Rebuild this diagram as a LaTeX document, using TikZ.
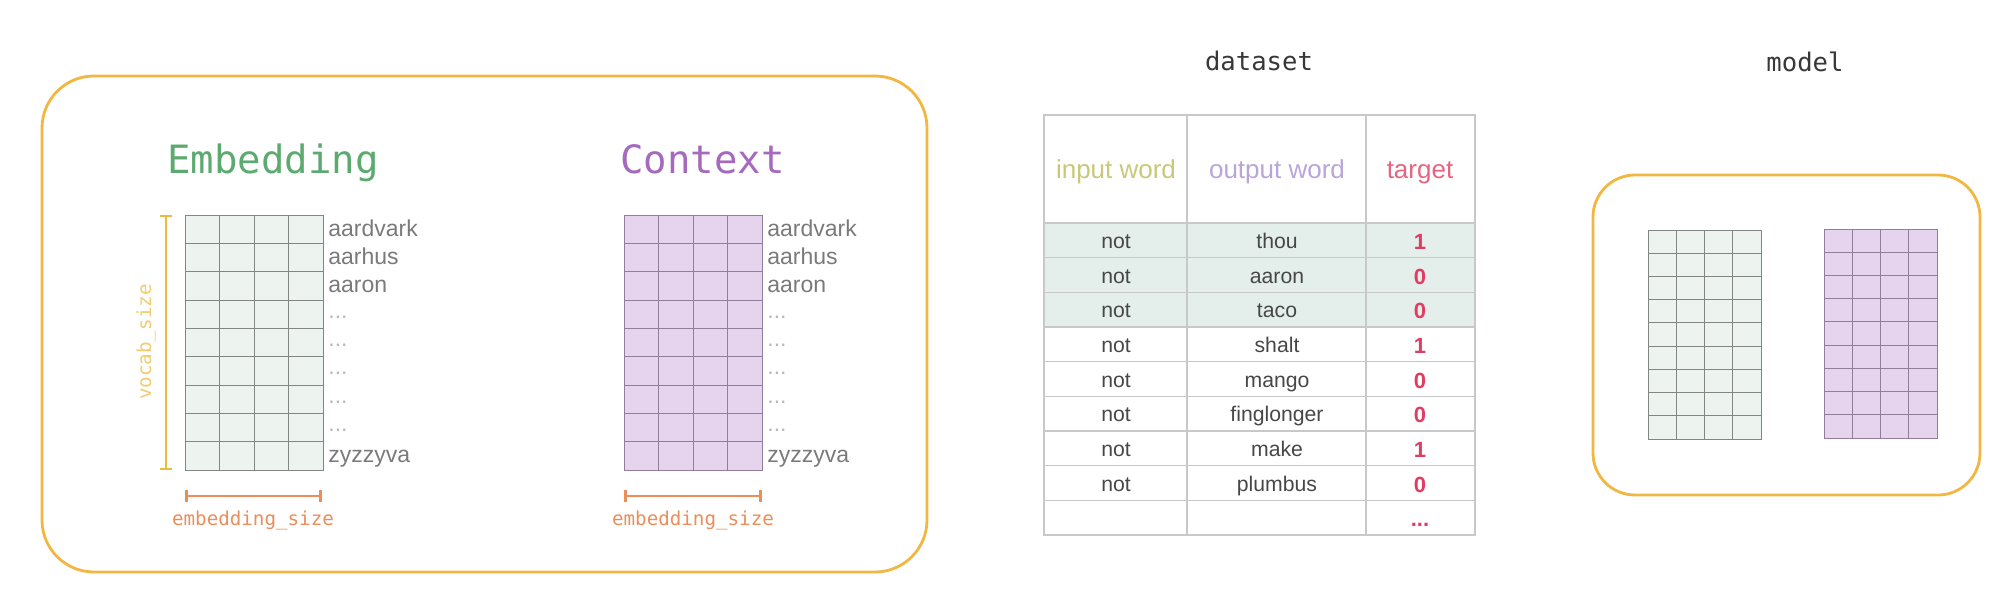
\documentclass[tikz,border=0pt]{standalone}
\usepackage{fontspec}
\setsansfont{Liberation Sans}
\setmonofont{DejaVu Sans Mono}
\usetikzlibrary{positioning,arrows.meta,calc}
\usepackage{xcolor}

\definecolor{frameorange}{RGB}{242,182,66}
\definecolor{embgreen}{RGB}{92,170,112}
\definecolor{ctxpurple}{RGB}{165,105,190}
\definecolor{vocabline}{RGB}{236,186,60}
\definecolor{vocabtext}{RGB}{240,204,110}
\definecolor{sizeorange}{RGB}{234,142,92}
\definecolor{embfill}{RGB}{237,243,239}
\definecolor{embline}{RGB}{130,135,132}
\definecolor{ctxfill}{RGB}{230,212,238}
\definecolor{ctxline}{RGB}{145,127,153}
\definecolor{tabline}{RGB}{200,200,200}
\definecolor{rowshade}{RGB}{228,239,236}
\definecolor{inputcol}{RGB}{200,200,120}
\definecolor{outputcol}{RGB}{185,165,215}
\definecolor{targetcol}{RGB}{230,100,130}
\definecolor{digitcol}{RGB}{225,60,100}

\newcommand{\gridlines}[1]{%
  \foreach \i in {1,2,3}
    \draw[#1, line width=0.5pt]
      ($(path picture bounding box.north west)!\i/4!(path picture bounding box.north east)$) --
      ($(path picture bounding box.south west)!\i/4!(path picture bounding box.south east)$);
  \foreach \j in {1,...,8}
    \draw[#1, line width=0.5pt]
      ($(path picture bounding box.north west)!\j/9!(path picture bounding box.south west)$) --
      ($(path picture bounding box.north east)!\j/9!(path picture bounding box.south east)$);
}

\begin{document}
\begin{tikzpicture}[
  x=0.5pt, y=-0.5pt,
  frame/.style={draw=frameorange, line width=1.4pt, rounded corners=#1},
  gridbox/.style n args={2}{draw=#2, fill=#1, line width=0.5pt, inner sep=0pt,
                            path picture={\gridlines{#2}}},
  bigmat/.style={minimum width=69pt, minimum height=127.5pt},
  smallmat/.style={minimum width=56.5pt, minimum height=104.5pt},
  title/.style={font=\ttfamily\fontsize{19.5}{20}\selectfont, anchor=base west, inner sep=0pt},
  head/.style={font=\ttfamily\fontsize{12.8}{14}\selectfont, text=black!78, anchor=base, inner sep=0pt},
  word/.style={font=\sffamily\fontsize{11.5}{12}\selectfont, text=black!52, anchor=base west, inner sep=0pt},
  dots/.style={word, text=black!28},
  dim/.style={font=\ttfamily\fontsize{9.6}{10}\selectfont, inner sep=0pt},
  colhead/.style={font=\sffamily\fontsize{13}{14}\selectfont, anchor=base, inner sep=0pt},
  cell/.style={font=\sffamily\fontsize{10.6}{12}\selectfont, text=black!72, anchor=base, inner sep=0pt},
  digit/.style={font=\sffamily\bfseries\fontsize{11}{12}\selectfont, text=digitcol, anchor=base, inner sep=0pt},
]
  \useasboundingbox (0,0) rectangle (2014,590);

  % Embedding and context matrices
  \draw[frame=26pt] (42,76) rectangle (927,572);
  \node[title, text=embgreen] (embt) at (167,173) {Embedding};
  \node[title, text=ctxpurple] (ctxt) at (620,173) {Context};
  \node[gridbox={embfill}{embline}, bigmat] (emb) at (254,342.5) {};
  \node[gridbox={ctxfill}{ctxline}, bigmat] (ctx) at (693,342.5) {};

  % Vocabulary words
  \foreach \w [count=\r] in {aardvark,aarhus,aaron} {
    \node[word] (ew\r) at (328,{215+(\r-0.5)*28.33+7}) {\w};
    \node[word] (cw\r) at (767,{215+(\r-0.5)*28.33+7}) {\w};
  }
  \foreach \r in {4,...,8} {
    \node[dots] (ew\r) at (328,{215+(\r-0.5)*28.33+4}) {...};
    \node[dots] (cw\r) at (767,{215+(\r-0.5)*28.33+4}) {...};
  }
  \node[word] (ew9) at (328,{215+8.5*28.33+7}) {zyzzyva};
  \node[word] (cw9) at (767,{215+8.5*28.33+7}) {zyzzyva};

  % Sizes
  \coordinate (vtop) at (166,215);
  \coordinate (vbot) at (166,470);
  \draw[vocabline, line width=1.1pt, {Bar[width=6pt]}-{Bar[width=6pt]}] (vtop) -- (vbot);
  \node[dim, text=vocabtext, rotate=90] (vlab) at (146,342) {vocab\_size};
  \coordinate (es1) at (185,496);
  \coordinate (es2) at (322,496);
  \draw[sizeorange, line width=1.3pt, {Bar[width=6pt]}-{Bar[width=6pt]}] (es1) -- (es2);
  \node[dim, text=sizeorange] (elab) at (253,520) {embedding\_size};
  \coordinate (cs1) at (624,496);
  \coordinate (cs2) at (762,496);
  \draw[sizeorange, line width=1.3pt, {Bar[width=6pt]}-{Bar[width=6pt]}] (cs1) -- (cs2);
  \node[dim, text=sizeorange] (clab) at (693,520) {embedding\_size};

  % Dataset table
  \node[head] (dataset) at (1259,70) {dataset};
  \fill[rowshade] (1044,223) rectangle (1475,327.7);
  \draw[tabline, line width=0.6pt] (1044,115) rectangle (1475,535);
  \draw[tabline, line width=0.6pt] (1187,115) -- (1187,535);
  \draw[tabline, line width=0.6pt] (1366,115) -- (1366,535);
  \foreach \r in {0,...,8}
    \draw[tabline, line width=0.6pt] (1044,{223+\r*34.67}) -- (1475,{223+\r*34.67});
  \node[colhead, text=inputcol] (hin) at (1116,178) {input word};
  \node[colhead, text=outputcol] (hout) at (1277,178) {output word};
  \node[colhead, text=targetcol] (htg) at (1420,178) {target};
  \foreach \o/\t [count=\r] in {thou/1,aaron/0,taco/0,shalt/1,mango/0,finglonger/0,make/1,plumbus/0} {
    \node[cell] (in\r) at (1116,{223+(\r-0.5)*34.67+8}) {not};
    \node[cell] (out\r) at (1277,{223+(\r-0.5)*34.67+8}) {\o};
    \node[digit] (tg\r) at (1420,{223+(\r-0.5)*34.67+9}) {\t};
  }
  \node[digit] (tg9) at (1420,{223+8.5*34.67+9}) {...};

  % Model
  \node[head] (model) at (1805,71) {model};
  \draw[frame=21pt] (1593,175) rectangle (1980,495);
  \node[gridbox={embfill}{embline}, smallmat] (memb) at (1704.5,334.5) {};
  \node[gridbox={ctxfill}{ctxline}, smallmat] (mctx) at (1880.5,333.5) {};
\end{tikzpicture}
\end{document}
